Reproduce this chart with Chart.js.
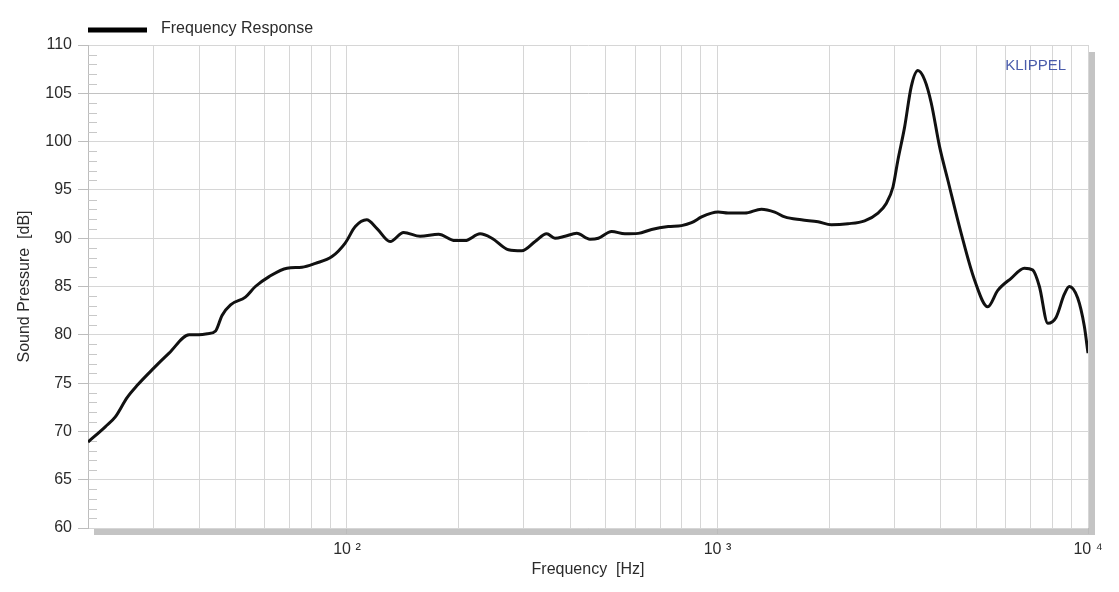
<!DOCTYPE html>
<html>
<head>
<meta charset="utf-8">
<title>Frequency Response</title>
<script src="https://cdn.jsdelivr.net/npm/chart.js@4/dist/chart.umd.min.js"></script>
<style>
  html, body { margin: 0; padding: 0; background: #fff; }
  #wrap { position: relative; width: 1119px; height: 592px; }
</style>
</head>
<body>
<div id="wrap"><canvas id="chart"></canvas></div>
<script>
/* Frequency response — KLIPPEL style plot */
var FREQ = [20, 22.3, 23.7, 25.5, 27.2, 30, 33.1, 37.5, 39.8, 42, 44.2, 46, 48.5, 53.2, 56.6, 61.5,
  68.9, 75.6, 82.2, 91.1, 98.9, 105.3, 113, 120.5, 130.8, 142.2, 157.6, 176.7, 195.8, 208.4, 228.7,
  246, 272.8, 296.3, 321.9, 346, 364.3, 387.6, 416.9, 452.7, 476.9, 518, 562.5, 611, 663.8, 736.5,
  799.8, 851, 905.8, 963.5, 1004, 1068, 1185, 1314, 1427, 1519, 1684, 1868, 2029, 2251, 2495, 2712,
  2854, 2976, 3069, 3199, 3334, 3474, 3622, 3775, 3974, 4186, 4547, 4938, 5364, 5708, 6202, 6735,
  7094, 7393, 7789, 8199, 8632, 8905, 9380, 9772, 10000];
var SPL = [68.9, 70.5, 71.5, 73.5, 74.8, 76.5, 78.1, 80.0, 80.0, 80.1, 80.4, 82.0, 83.1, 83.9, 85.0, 86.0,
  86.9, 87.0, 87.4, 88.1, 89.5, 91.2, 91.9, 91.0, 89.65, 90.6, 90.2, 90.4, 89.75, 89.75, 90.45,
  90.0, 88.8, 88.7, 89.65, 90.45, 90.0, 90.2, 90.5, 89.9, 90.0, 90.7, 90.45, 90.5, 90.9, 91.2,
  91.3, 91.6, 92.2, 92.6, 92.7, 92.6, 92.6, 93.0, 92.7, 92.2, 91.9, 91.7, 91.4, 91.5, 91.8, 92.6,
  93.6, 95.3, 98.1, 101.5, 105.7, 107.35, 106.4, 104.0, 99.5, 96.0, 90.5, 85.7, 82.9, 84.6, 85.85, 86.9,
  86.7, 85.0, 81.2, 81.8, 84.2, 85.0, 83.8, 80.9, 78.1];
var GRID_FREQ = [20, 30, 40, 50, 60, 70, 80, 90, 100, 200, 300, 400, 500, 600, 700, 800, 900,
  1000, 2000, 3000, 4000, 5000, 6000, 7000, 8000, 9000, 10000];
var DECADE_LABELS = { 100: '10 \u00b2', 1000: '10 \u00b3', 10000: '10 \u2074' };
var SERIES_LABEL = 'Frequency Response';

(function () {
  'use strict';

  var INK = '#111111', TEXT = '#2b2b2b', GRID = '#d6d6d6', SHADOW = '#c4c4c4', BRAND = '#4a5cab';
  var FONT = "'Liberation Sans', Arial, sans-serif";

  Chart.defaults.font.family = FONT;
  Chart.defaults.font.size = 16;
  Chart.defaults.color = TEXT;

  var points = FREQ.map(function (f, i) { return { x: f, y: SPL[i] }; });

  // shadow frame, minor y ticks, legend and brand text
  var decor = {
    id: 'decor',
    beforeDraw: function (chart) {
      var a = chart.chartArea, ctx = chart.ctx;
      ctx.save();
      ctx.fillStyle = SHADOW;
      ctx.fillRect(a.left + 6, a.bottom, a.right - a.left + 1, 7);
      ctx.fillRect(a.right, a.top + 7, 7, a.bottom - a.top);
      ctx.restore();
    },
    beforeDatasetsDraw: function (chart) {
      var a = chart.chartArea, ctx = chart.ctx, y = chart.scales.y;
      ctx.save();
      ctx.strokeStyle = '#c8c8c8';
      ctx.lineWidth = 1;
      for (var v = 61; v < 110; v++) {
        if (v % 5 === 0) continue;
        var py = Math.round(y.getPixelForValue(v)) + 0.5;
        ctx.beginPath();
        ctx.moveTo(a.left, py);
        ctx.lineTo(a.left + 9, py);
        ctx.stroke();
      }
      ctx.restore();
    },
    afterDraw: function (chart) {
      var a = chart.chartArea, ctx = chart.ctx;
      ctx.save();
      ctx.strokeStyle = '#000';
      ctx.lineWidth = 5;
      ctx.beginPath();
      ctx.moveTo(a.left, 30);
      ctx.lineTo(a.left + 59, 30);
      ctx.stroke();
      ctx.fillStyle = TEXT;
      ctx.font = '16px ' + FONT;
      ctx.textBaseline = 'middle';
      ctx.fillText(chart.data.datasets[0].label, a.left + 73, 29);
      ctx.fillStyle = BRAND;
      ctx.font = '15px ' + FONT;
      ctx.textAlign = 'right';
      ctx.fillText('KLIPPEL', 1066, 66);
      ctx.restore();
    }
  };

  new Chart(document.getElementById('chart'), {
    type: 'line',
    data: {
      datasets: [{
        label: SERIES_LABEL,
        data: points,
        borderColor: INK,
        backgroundColor: INK,
        borderWidth: 3,
        pointRadius: 0,
        cubicInterpolationMode: 'monotone',
        fill: false
      }]
    },
    options: {
      responsive: true, maintainAspectRatio: false,
      animation: false,
      layout: { padding: { top: 45, right: 31, bottom: 0, left: 0 } },
      plugins: { legend: { display: false }, tooltip: { enabled: false } },
      scales: {
        x: {
          type: 'logarithmic',
          min: 20, max: 10000,
          afterBuildTicks: function (s) { s.ticks = GRID_FREQ.map(function (v) { return { value: v }; }); },
          afterFit: function (s) { s.height = 64; },
          border: { display: false },
          grid: {
            color: GRID, lineWidth: 1, tickLength: 6,
            tickColor: function (c) { return DECADE_LABELS[c.tick && c.tick.value] ? '#bbbbbb' : 'rgba(0,0,0,0)'; }
          },
          ticks: {
            autoSkip: false, maxRotation: 0, padding: 6, color: TEXT,
            callback: function (v) { return DECADE_LABELS[v] || ''; }
          },
          title: { display: true, text: 'Frequency  [Hz]', color: TEXT, padding: { top: 0, bottom: 13 } }
        },
        y: {
          min: 60, max: 110,
          afterFit: function (s) { s.width = 88; },
          border: { color: '#bdbdbd' },
          grid: {
            color: function (c) { return c.tick && c.tick.value === 105 ? '#c2c2c2' : GRID; },
            tickColor: '#bdbdbd', tickLength: 10
          },
          ticks: { stepSize: 5, padding: 6, color: TEXT },
          title: { display: true, text: 'Sound Pressure  [dB]', color: TEXT, padding: { top: 15, bottom: 0 } }
        }
      }
    },
    plugins: [decor]
  });
})();
</script>
</body>
</html>
